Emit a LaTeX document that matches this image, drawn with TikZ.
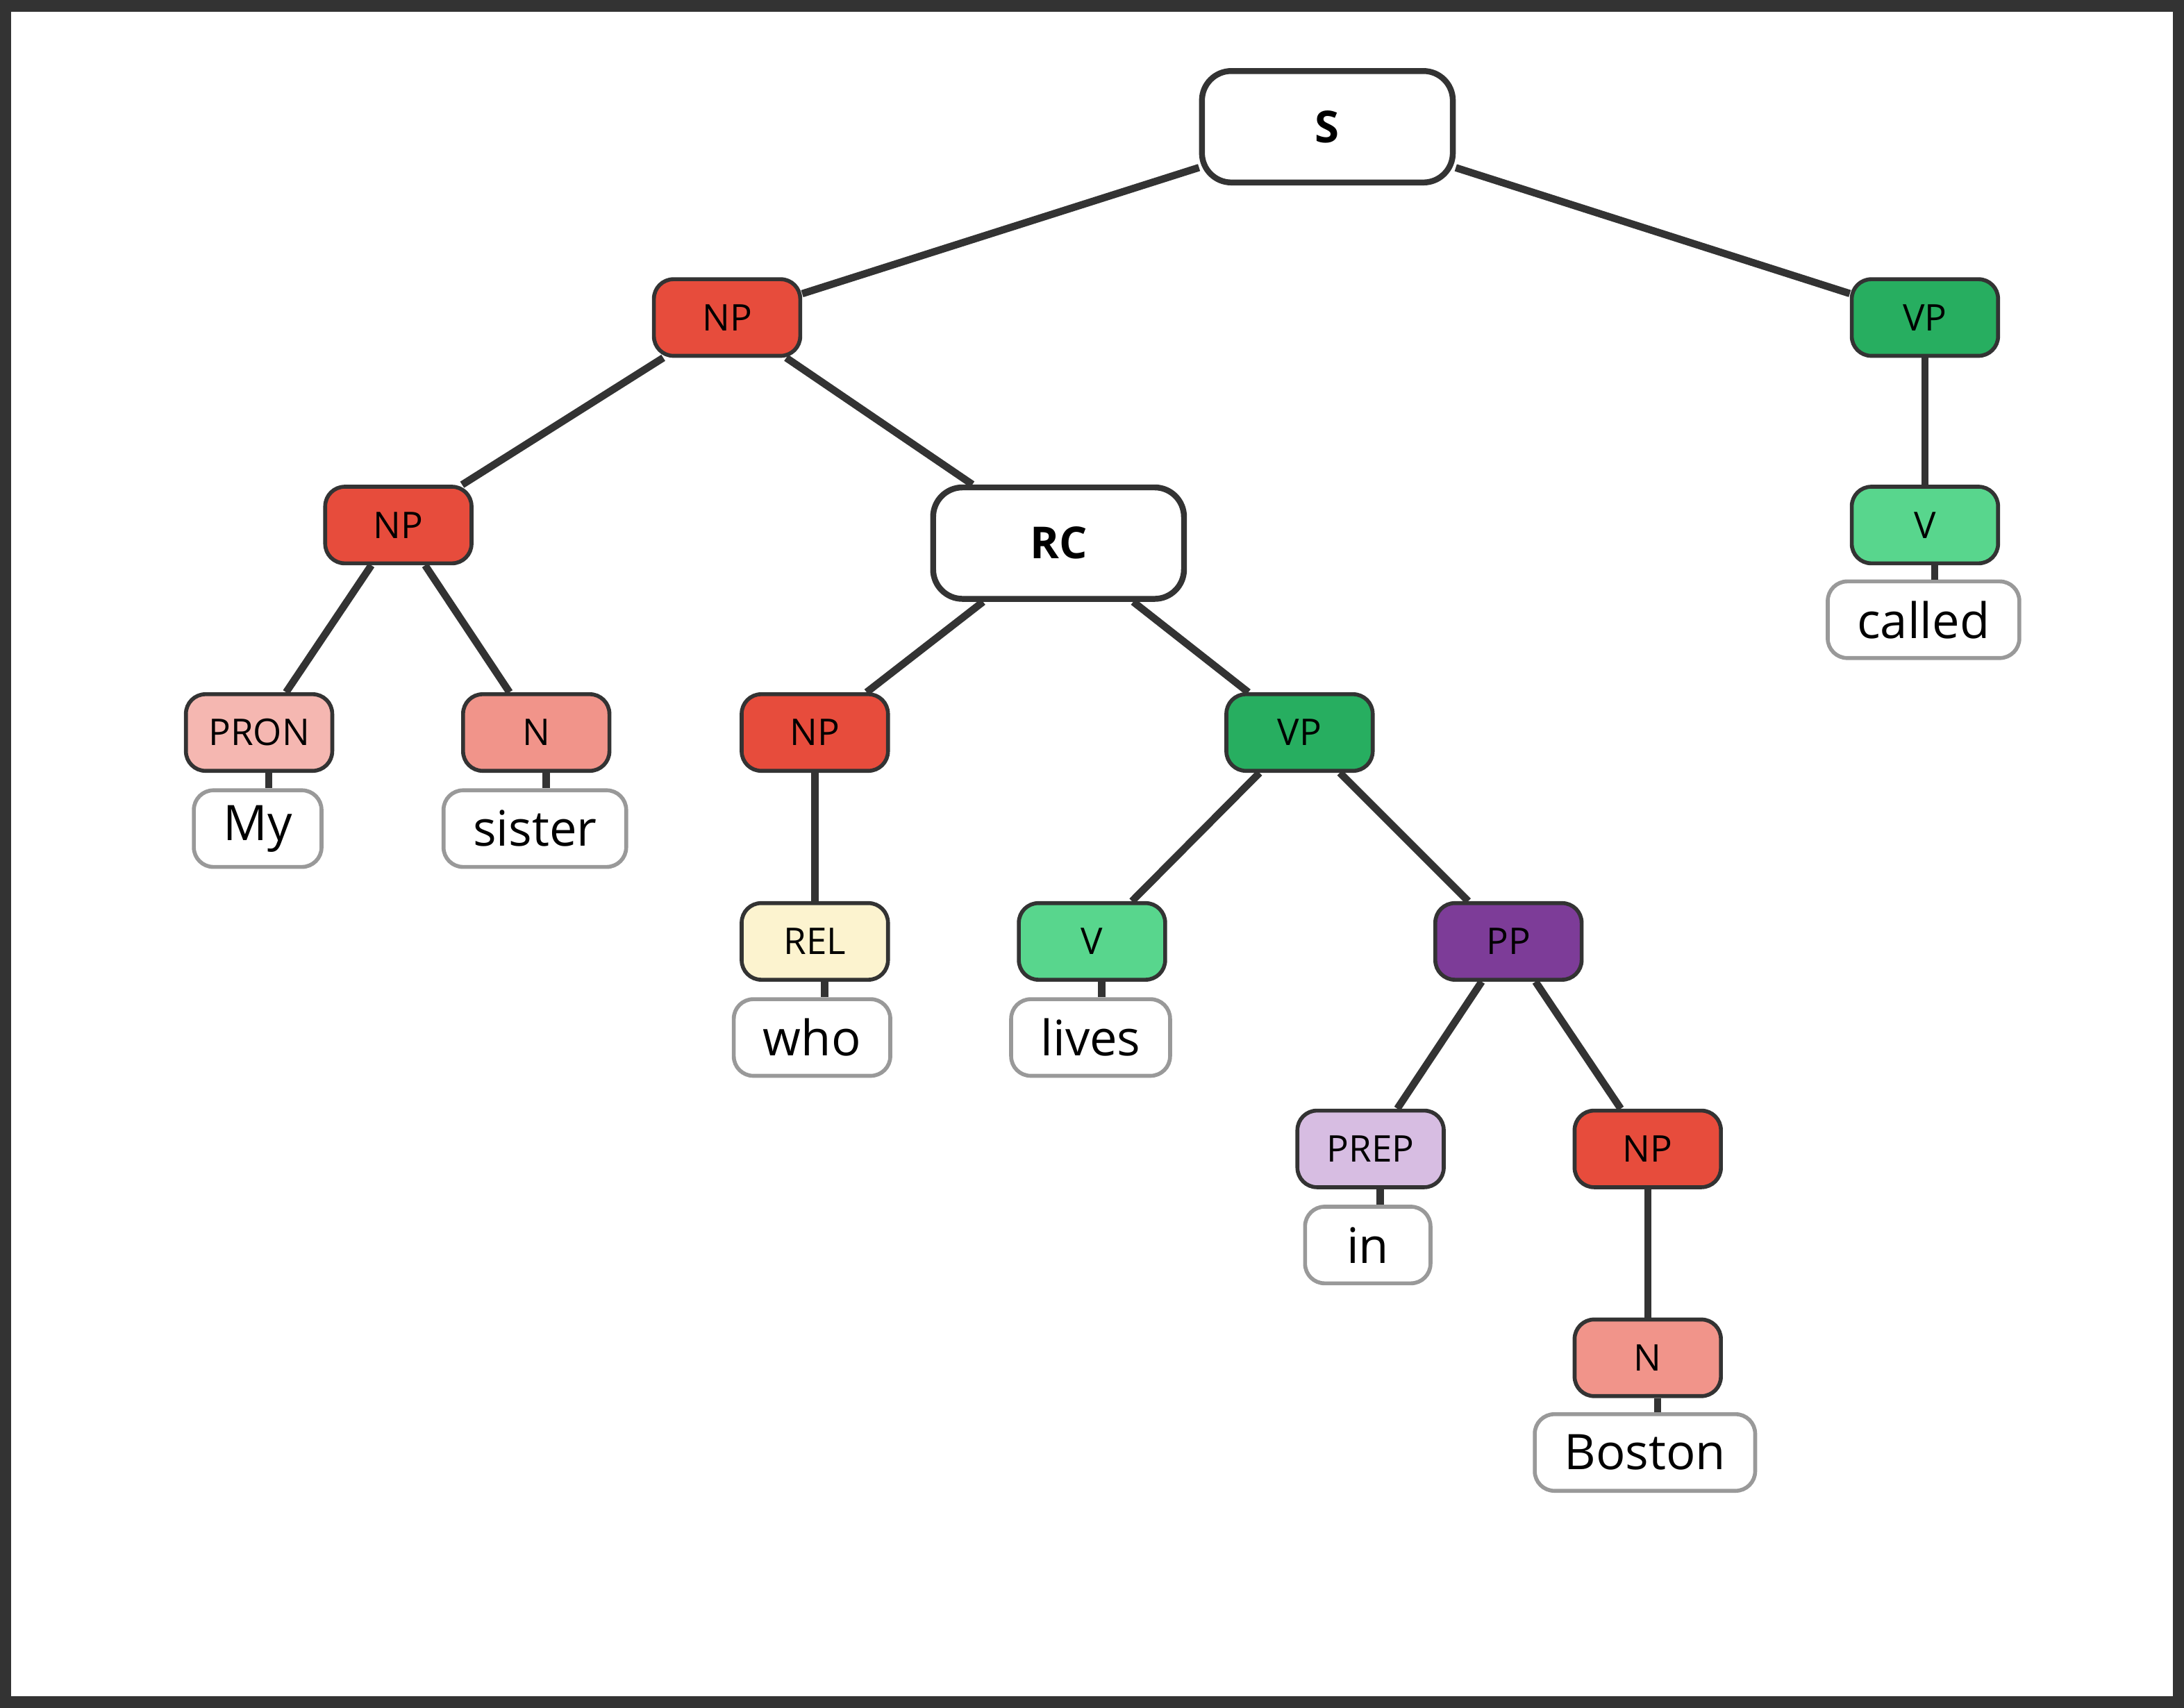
\documentclass[tikz,border=0pt]{standalone}
\usepackage{fontspec}
\setmainfont{Open Sans}
\begin{document}
\begin{tikzpicture}[x=0.01cm,y=-0.01cm,
 tag/.style={draw=black!80,line width=0.8pt,rounded corners=4pt,minimum width=1.05cm,minimum height=0.55cm,inner sep=0pt,font=\fontsize{7.5}{9}\selectfont},
 big/.style={draw=black!80,line width=1.2pt,rounded corners=6pt,fill=white,minimum width=1.8cm,minimum height=0.8cm,inner sep=0pt,font=\bfseries\fontsize{9}{11}\selectfont},
 word/.style={draw=black!40,line width=0.8pt,rounded corners=4pt,fill=white,minimum height=0.55cm,inner xsep=6pt,inner ysep=0pt,font=\fontsize{10}{12}\selectfont},
 edge/.style={draw=black!80,line width=1.5pt},
 every node/.style={text=black}]
\definecolor{np}{HTML}{E74C3C}\definecolor{vp}{HTML}{27AE60}\definecolor{v}{HTML}{58D68D}
\definecolor{pron}{HTML}{F5B7B1}\definecolor{n}{HTML}{F1948A}\definecolor{rel}{HTML}{FCF3CF}
\definecolor{pp}{HTML}{7D3C98}\definecolor{prep}{HTML}{D7BDE2}
\useasboundingbox (0,0) rectangle (1568,1226);
\draw[black!80,line width=2.4pt] (4,4) rectangle (1564,1222);
\node[big] (S) at (953,91) {S};
\node[tag,fill=np] (NP1) at (522,228) {NP};
\node[tag,fill=vp] (VP1) at (1382,228) {VP};
\node[tag,fill=np] (NP2) at (286,377) {NP};
\node[big] (RC) at (760,390) {RC};
\node[tag,fill=v] (V1) at (1382,377) {V};
\node[word,minimum width=1.13cm] (called) at (1381,445) {called};
\node[tag,fill=pron] (PRON) at (186,526) {PRON};
\node[tag,fill=n] (N1) at (385,526) {N};
\node[tag,fill=np] (NP3) at (585,526) {NP};
\node[tag,fill=vp] (VP2) at (933,526) {VP};
\node[word,minimum width=0.9cm] (my) at (185,595) {My};
\node[word,minimum width=1.05cm] (sister) at (384,595) {sister};
\node[tag,fill=rel] (REL) at (585,676) {REL};
\node[tag,fill=v] (V2) at (784,676) {V};
\node[tag,fill=pp] (PP) at (1083,676) {PP};
\node[word,minimum width=0.91cm] (who) at (583,745) {who};
\node[word,minimum width=0.92cm] (lives) at (783,745) {lives};
\node[tag,fill=prep] (PREP) at (984,825) {PREP};
\node[tag,fill=np] (NP4) at (1183,825) {NP};
\node[word,minimum width=0.9cm] (in) at (982,894) {in};
\node[tag,fill=n] (N2) at (1183,975) {N};
\node[word,minimum width=1.3cm] (boston) at (1181,1043) {Boston};
\foreach \a/\b in {S/NP1,S/VP1,NP1/NP2,NP1/RC,VP1/V1,NP2/PRON,NP2/N1,RC/NP3,RC/VP2,NP3/REL,VP2/V2,VP2/PP,PP/PREP,PP/NP4,NP4/N2}
  \draw[edge] (\a) -- (\b);
\foreach \a/\b in {V1/called,PRON/my,N1/sister,REL/who,V2/lives,PREP/in,N2/boston}
  \draw[edge] ([xshift=2]\a.south) -- ([xshift=2]\a.south |- \b.north);
\end{tikzpicture}
\end{document}
